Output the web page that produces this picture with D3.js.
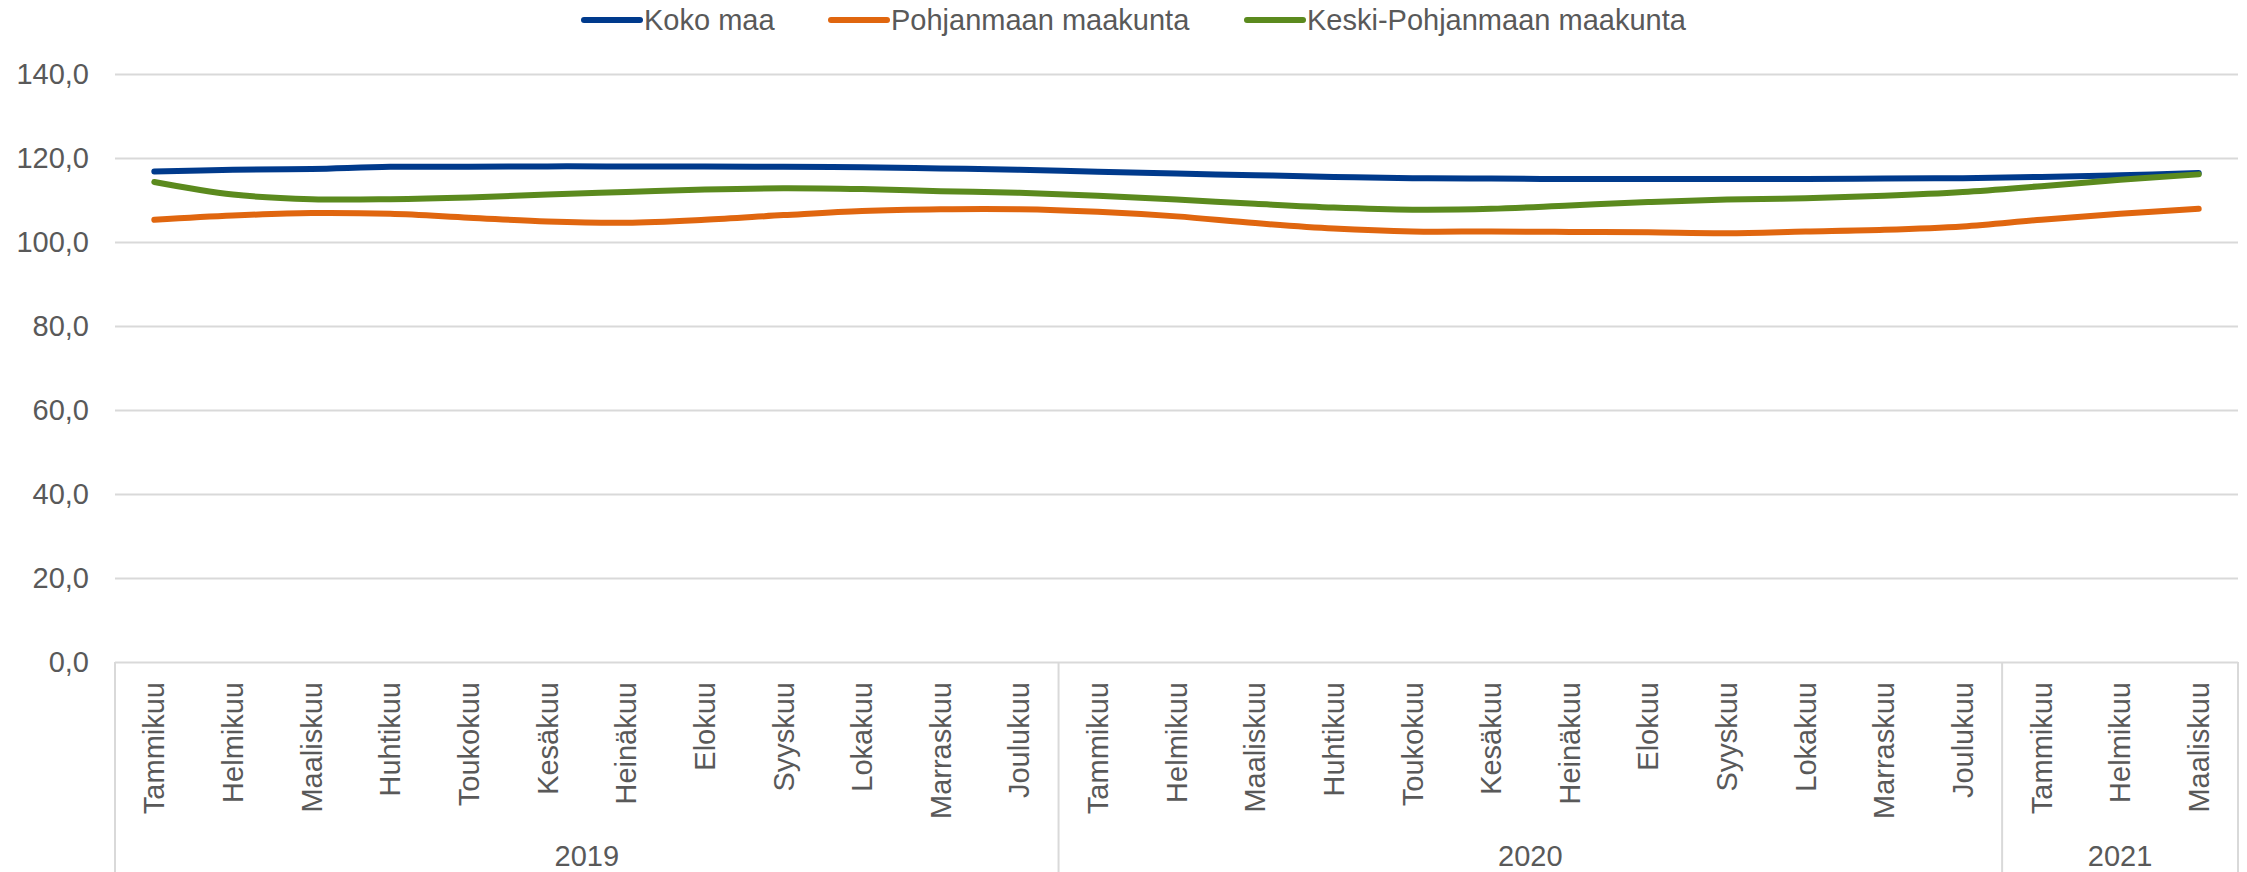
<!DOCTYPE html>
<html><head><meta charset="utf-8">
<script src="https://cdn.jsdelivr.net/npm/d3@7"></script>
<style>
html,body{margin:0;padding:0;background:#fff;}
text{font-family:"Liberation Sans",Arial,sans-serif;fill:#595959;}
</style></head>
<body><svg id="c" width="2247" height="872"></svg>
<script>
const months = ["Tammikuu","Helmikuu","Maaliskuu","Huhtikuu","Toukokuu","Kesäkuu","Heinäkuu","Elokuu","Syyskuu","Lokakuu","Marraskuu","Joulukuu",
"Tammikuu","Helmikuu","Maaliskuu","Huhtikuu","Toukokuu","Kesäkuu","Heinäkuu","Elokuu","Syyskuu","Lokakuu","Marraskuu","Joulukuu",
"Tammikuu","Helmikuu","Maaliskuu"];
const years = ["2019","2020","2021"];
const yearCounts = [12,12,3];
const seriesNames = ["Koko maa","Pohjanmaan maakunta","Keski-Pohjanmaan maakunta"];
const kokoMaa = [116.8,117.2,117.4,117.9,117.9,118.0,118.0,118.0,117.9,117.8,117.5,117.2,116.7,116.3,115.9,115.5,115.2,115.1,115.0,115.0,115.0,115.0,115.1,115.2,115.5,115.9,116.4];
const pohjanmaa = [105.3,106.3,106.9,106.7,105.8,104.9,104.6,105.3,106.4,107.4,107.8,107.8,107.2,106.1,104.5,103.2,102.5,102.5,102.4,102.3,102.1,102.5,102.9,103.7,105.3,106.7,107.9];
const keskiPohjanmaa = [114.3,111.3,110.2,110.2,110.6,111.3,111.9,112.5,112.8,112.6,112.1,111.7,111.0,110.1,109.1,108.2,107.7,107.9,108.7,109.5,110.1,110.4,111.0,111.9,113.3,114.8,116.1];
const yTicks = [0,20,40,60,80,100,120,140];
const colors = ["#003A8C","#E0660F","#5B8A1E"];

const svg = d3.select("#c");
const mLeft = 115, mRight = 2238, mTop = 74, mBottom = 662;
const idx = d3.range(months.length);
const x = d3.scaleBand().domain(idx).range([mLeft, mRight]).padding(0);
const y = d3.scaleLinear().domain([0,140]).range([mBottom, mTop]);
const fmt = v => d3.format(".1f")(v).replace(".", ",");

// gridlines
const yAxis = d3.axisLeft(y).tickValues(yTicks).tickSize(-(mRight-mLeft)).tickFormat(fmt).tickPadding(26);
const gy = svg.append("g").attr("transform", `translate(${mLeft},0)`).call(yAxis);
gy.select(".domain").remove();
gy.selectAll(".tick line").attr("stroke","#d9d9d9").attr("stroke-width",2);
gy.selectAll(".tick text").style("font-size","29px").attr("fill","#595959");

// category axis
const xAxis = d3.axisBottom(x).tickSize(0).tickFormat(i => months[i]);
const gx = svg.append("g").attr("transform", `translate(0,${mBottom})`).call(xAxis);
gx.select(".domain").remove();
gx.selectAll(".tick text")
  .style("font-size","29px").attr("fill","#595959")
  .attr("text-anchor","end")
  .attr("transform","rotate(-90)")
  .attr("x",-20).attr("y",0).attr("dy","0.35em");

// group separators
let bounds = [0]; yearCounts.forEach((c,i)=>bounds.push(bounds[i]+c));
const sepX = bounds.map(b => b < months.length ? x(b) : x(months.length-1)+x.bandwidth());
svg.append("g").selectAll("line").data(sepX).join("line")
  .attr("x1",d=>d).attr("x2",d=>d).attr("y1",mBottom).attr("y2",872)
  .attr("stroke","#d9d9d9").attr("stroke-width",2);
svg.append("g").selectAll("text").data(years).join("text")
  .attr("x",(d,i)=>(sepX[i]+sepX[i+1])/2).attr("y",866)
  .attr("text-anchor","middle").style("font-size","29px").text(d=>d);

// lines
const data = [kokoMaa, pohjanmaa, keskiPohjanmaa];
const line = d3.line().x((d,i)=>x(i)+x.bandwidth()/2).y(d=>y(d)).curve(d3.curveCatmullRom.alpha(0.5));
svg.append("g").selectAll("path").data(data).join("path")
  .attr("d", line).attr("fill","none")
  .attr("stroke",(d,i)=>colors[i]).attr("stroke-width",6)
  .attr("stroke-linecap","round").attr("stroke-linejoin","round");

// legend
const legX = [584, 831, 1247];
const lg = svg.append("g");
seriesNames.forEach((n,i)=>{
  lg.append("line").attr("x1",legX[i]).attr("x2",legX[i]+56).attr("y1",20).attr("y2",20)
    .attr("stroke",colors[i]).attr("stroke-width",6).attr("stroke-linecap","round");
  lg.append("text").attr("x",legX[i]+60).attr("y",20).attr("dy","0.35em")
    .style("font-size","29px").text(n);
});
</script></body></html>
